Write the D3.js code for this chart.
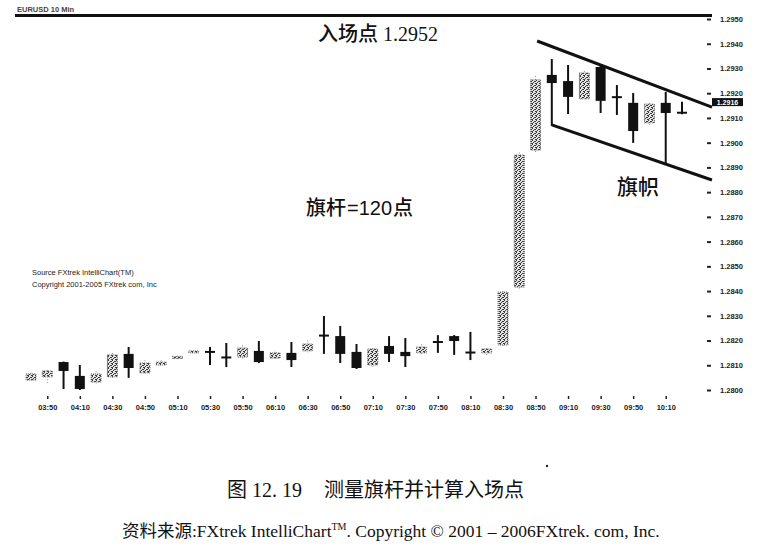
<!DOCTYPE html>
<html><head><meta charset="utf-8">
<script src="https://cdn.jsdelivr.net/npm/d3@7/dist/d3.min.js"></script>
<style>
html,body{margin:0;padding:0;background:#fff;}
svg{display:block;}
</style></head>
<body>
<svg id="c" width="779" height="558"></svg>
<script>
const times = ["03:40","03:50","04:00","04:10","04:20","04:30","04:40","04:50","05:00","05:10",
  "05:20","05:30","05:40","05:50","06:00","06:10","06:20","06:30","06:40","06:50",
  "07:00","07:10","07:20","07:30","07:40","07:50","08:00","08:10","08:20","08:30",
  "08:40","08:50","09:00","09:10","09:20","09:30","09:40","09:50","10:00","10:10","10:20"];
const opens  = [1.28040,1.28053,1.28113,1.28057,1.28032,1.28053,1.28146,1.28069,1.28101,1.28127,
  1.28150,1.28152,1.28133,1.28133,1.28158,1.28129,1.28150,1.28158,1.28218,1.28218,
  1.28154,1.28101,1.28178,1.28154,1.28150,1.28192,1.28218,1.28154,1.28150,1.28182,
  1.28416,1.28970,1.29274,1.29249,1.29177,1.29306,1.29185,1.29161,1.29080,1.29161,1.29122];
const highs  = [1.28070,1.28080,1.28115,1.28101,1.28075,1.28150,1.28174,1.28120,1.28120,1.28138,
  1.28158,1.28174,1.28190,1.28180,1.28198,1.28155,1.28194,1.28200,1.28299,1.28259,
  1.28186,1.28170,1.28218,1.28210,1.28185,1.28222,1.28222,1.28235,1.28170,1.28400,
  1.28960,1.29270,1.29338,1.29314,1.29290,1.29315,1.29233,1.29201,1.29160,1.29205,1.29165];
const lows   = [1.28035,1.28028,1.28004,1.28000,1.28025,1.28045,1.28049,1.28060,1.28095,1.28125,
  1.28150,1.28101,1.28093,1.28125,1.28109,1.28120,1.28093,1.28150,1.28146,1.28109,
  1.28085,1.28095,1.28113,1.28093,1.28140,1.28150,1.28142,1.28121,1.28140,1.28170,
  1.28410,1.28960,1.29068,1.29116,1.29170,1.29120,1.29112,1.28999,1.29070,1.28918,1.29115];
const closes = [1.28065,1.28077,1.28077,1.28004,1.28065,1.28142,1.28089,1.28109,1.28113,1.28136,
  1.28158,1.28156,1.28130,1.28170,1.28113,1.28150,1.28121,1.28186,1.28222,1.28146,
  1.28089,1.28166,1.28146,1.28137,1.28174,1.28196,1.28198,1.28149,1.28166,1.28396,
  1.28950,1.29254,1.29241,1.29185,1.29282,1.29169,1.29183,1.29047,1.29156,1.29120,1.29120];
const yTicks = [1.2800,1.2810,1.2820,1.2830,1.2840,1.2850,1.2860,1.2870,1.2880,1.2890,
  1.2900,1.2910,1.2920,1.2930,1.2940,1.2950];
const xTickIdx = [1,3,5,7,9,11,13,15,17,19,21,23,25,27,29,31,33,35,37,39];
// flag channel lines (candle index, price)
const upperIdx = [31.1, 41.84], upperPx = [1.29411, 1.29144];
const lowerIdx = [32.0, 41.84], lowerPx = [1.29072, 1.28849];
const lastPrice = 1.2916;

const svg = d3.select("#c");
const x = d3.scaleLinear().domain([0, 40]).range([31, 682]);
const y = d3.scaleLinear().domain([1.2800, 1.2950]).range([390, 19]);

const defs = svg.append("defs");
const pat = defs.append("pattern").attr("id","dots").attr("patternUnits","userSpaceOnUse")
  .attr("width",4).attr("height",4);
pat.append("rect").attr("width",4).attr("height",4).attr("fill","#e4e4e4");
[[0,0],[2,1],[1,2],[3,3],[3,1],[0,3]].forEach(p=>pat.append("rect").attr("x",p[0]).attr("y",p[1])
  .attr("width",1).attr("height",1).attr("fill","#3a3a3a"));

// header
svg.append("text").attr("x",17).attr("y",12).attr("font-family","Liberation Sans, Arial")
  .attr("font-size",7.5).attr("font-weight","bold").attr("fill","#444").text("EURUSD 10 Min");
svg.append("line").attr("x1",15).attr("x2",712).attr("y1",15.5).attr("y2",15.5)
  .attr("stroke","#111").attr("stroke-width",3);

const data = times.map((t,i)=>({i, t, o:opens[i], h:highs[i], l:lows[i], c:closes[i]}));
const bw = 10;
const g = svg.append("g");
data.forEach(d=>{
  const cx = x(d.i);
  const up = d.c >= d.o;
  const doji = Math.abs(d.c - d.o) < 0.00006;
  if (doji) {
    g.append("line").attr("x1",cx).attr("x2",cx).attr("y1",y(d.h)).attr("y2",y(d.l))
      .attr("stroke","#111").attr("stroke-width",2);
    g.append("line").attr("x1",cx-bw/2).attr("x2",cx+bw/2).attr("y1",y((d.o+d.c)/2)).attr("y2",y((d.o+d.c)/2))
      .attr("stroke","#111").attr("stroke-width",2);
  } else if (up) {
    g.append("line").attr("x1",cx).attr("x2",cx).attr("y1",y(d.h)).attr("y2",y(d.l))
      .attr("stroke","#888").attr("stroke-width",1).attr("stroke-dasharray","1,2");
    g.append("rect").attr("x",cx-bw/2).attr("width",bw).attr("y",y(d.c)).attr("height",Math.max(2,y(d.o)-y(d.c)))
      .attr("fill","url(#dots)").attr("stroke","#666").attr("stroke-width",1).attr("stroke-dasharray","1,1");
  } else {
    g.append("line").attr("x1",cx).attr("x2",cx).attr("y1",y(d.h)).attr("y2",y(d.l))
      .attr("stroke","#111").attr("stroke-width",2);
    g.append("rect").attr("x",cx-bw/2).attr("width",bw).attr("y",y(d.o)).attr("height",Math.max(2,y(d.c)-y(d.o)))
      .attr("fill","#111");
  }
});

// channel lines
const line = d3.line().x(d=>x(d[0])).y(d=>y(d[1]));
svg.append("path").attr("d",line(d3.zip(upperIdx,upperPx))).attr("stroke","#111").attr("stroke-width",3).attr("fill","none");
svg.append("path").attr("d",line(d3.zip(lowerIdx,lowerPx))).attr("stroke","#111").attr("stroke-width",3).attr("fill","none");

// axes
const xa = svg.append("g").attr("transform","translate(0,396)")
  .call(d3.axisBottom(x).tickValues(xTickIdx).tickFormat(i=>times[i]).tickSize(3).tickPadding(6));
xa.select(".domain").remove();
xa.selectAll("text").attr("font-family","Liberation Sans, Arial").attr("font-size",7.5).attr("font-weight","bold").attr("fill","#222");
xa.selectAll("line").attr("stroke","#222").attr("stroke-width",1.5);

const ya = svg.append("g").attr("transform","translate(707,0)")
  .call(d3.axisRight(y).tickValues(yTicks).tickFormat(d3.format(".4f")).tickSize(4).tickPadding(9));
ya.select(".domain").remove();
ya.selectAll("text").attr("font-family","Liberation Sans, Arial").attr("font-size",7.5).attr("font-weight","bold").attr("fill","#222");
ya.selectAll("line").attr("stroke","#222").attr("stroke-width",2);

// last price label
svg.append("rect").attr("x",712).attr("y",y(lastPrice)-5).attr("width",31).attr("height",8).attr("fill","#111");
svg.append("text").attr("x",727.5).attr("y",y(lastPrice)+1.6).attr("text-anchor","middle")
  .attr("font-family","Liberation Sans, Arial").attr("font-size",7).attr("font-weight","bold").attr("fill","#fff")
  .text(d3.format(".4f")(lastPrice));

// source text
const src = svg.append("g").attr("font-family","Liberation Sans, Arial").attr("font-size",7.5).attr("fill","#222");
src.append("text").attr("x",32).attr("y",275).text("Source FXtrek IntelliChart(TM)");
src.append("text").attr("x",32).attr("y",287).text("Copyright 2001-2005 FXtrek com, Inc");

// annotations
const cjk = "Noto Sans CJK SC";
const a1 = svg.append("text").attr("x",318).attr("y",41).attr("font-size",20).attr("fill","#111");
a1.append("tspan").attr("font-family",cjk).attr("font-weight",500).text("入场点");
a1.append("tspan").attr("font-family","Liberation Serif").attr("dx",5).text("1.2952");
const a2 = svg.append("text").attr("x",306).attr("y",215).attr("font-size",20).attr("fill","#111");
a2.append("tspan").attr("font-family",cjk).attr("font-weight",500).text("旗杆");
a2.append("tspan").attr("font-family","Liberation Sans").attr("dx",1).text("=120");
a2.append("tspan").attr("font-family",cjk).attr("font-weight",500).attr("dx",1).text("点");
svg.append("text").attr("x",617).attr("y",194).attr("font-size",21).attr("fill","#111")
  .attr("font-family",cjk).attr("font-weight",500).text("旗帜");

// caption
const cap = svg.append("text").attr("x",227).attr("y",497).attr("font-size",20).attr("fill","#111");
cap.append("tspan").attr("font-family",cjk).attr("font-weight",400).text("图");
cap.append("tspan").attr("font-family","Liberation Serif").attr("dx",5).text("12. 19");
cap.append("tspan").attr("font-family",cjk).attr("font-weight",400).attr("dx",22).text("测量旗杆并计算入场点");

const s2 = svg.append("text").attr("x",122).attr("y",537).attr("font-size",17.5).attr("fill","#111");
s2.append("tspan").attr("font-family",cjk).attr("font-weight",400).text("资料来源");
s2.append("tspan").attr("font-family","Liberation Serif").text(":FXtrek IntelliChart");
s2.append("tspan").attr("font-family","Liberation Serif").attr("font-size",10).attr("dy",-7).text("TM");
s2.append("tspan").attr("font-family","Liberation Serif").attr("dy",7).text(". Copyright © 2001 – 2006FXtrek. com, Inc.");

svg.append("circle").attr("cx",547).attr("cy",466).attr("r",1.2).attr("fill","#222");
</script>
</body></html>
